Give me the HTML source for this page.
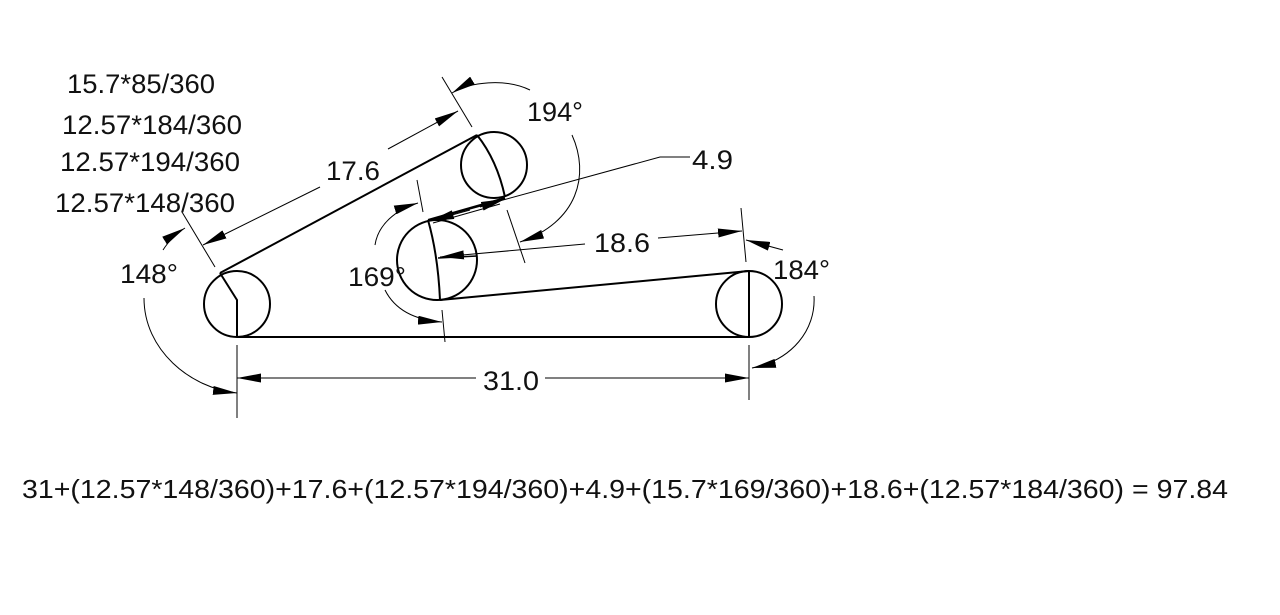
<!DOCTYPE html>
<html><head><meta charset="utf-8"><style>
html,body{margin:0;padding:0;background:#fff;}
svg{display:block;}
text{font-family:"Liberation Sans",Arial,sans-serif;fill:#111;}
</style></head><body>
<svg width="1280" height="615" viewBox="0 0 1280 615" xmlns="http://www.w3.org/2000/svg">
<defs>
<marker id="a" viewBox="0 0 24 9" refX="24" refY="4.5" markerWidth="24" markerHeight="9" markerUnits="userSpaceOnUse" orient="auto-start-reverse">
<path d="M0,0 L24,4.5 L0,9 Z" fill="#000"/>
</marker>
</defs>
<g stroke="#000" stroke-width="2" fill="none">
<circle cx="237" cy="304" r="33"/>
<circle cx="494" cy="165" r="33"/>
<circle cx="437" cy="260" r="40"/>
<circle cx="749" cy="304" r="33"/>
<line x1="237" y1="337" x2="749" y2="337"/>
<line x1="220" y1="273" x2="477" y2="135"/>
<line x1="440" y1="300" x2="749" y2="271"/>
<line x1="428" y1="220" x2="505" y2="198"/>
<line x1="433" y1="223" x2="500" y2="204" stroke-width="1"/>
<polyline points="220,273 237,300 237,337"/>
<path d="M477,135 Q497,160 505,197"/>
<path d="M428,220 Q438,255 440,300"/>
<line x1="438" y1="258" x2="477" y2="256" stroke-width="1.5"/>
<line x1="749" y1="271" x2="749" y2="337"/>
</g>
<g stroke="#000" stroke-width="1" fill="none">
<line x1="237" y1="345" x2="237" y2="418"/>
<line x1="749" y1="345" x2="749" y2="400"/>
<line x1="237" y1="378" x2="476" y2="378" marker-start="url(#a)"/>
<line x1="545" y1="378" x2="749" y2="378" marker-end="url(#a)"/>
<line x1="182" y1="212" x2="215" y2="267"/>
<line x1="442" y1="77" x2="472" y2="127"/>
<line x1="203" y1="245" x2="320" y2="187" marker-start="url(#a)"/>
<line x1="388" y1="149" x2="458" y2="111" marker-end="url(#a)"/>
<polyline points="690,157 660,157 430,220" />
<path d="M470,210 L430,221" marker-end="url(#a)"/>
<path d="M480,207 L505,199" marker-end="url(#a)"/>
<line x1="440" y1="257" x2="585" y2="244" marker-start="url(#a)"/>
<line x1="658" y1="238" x2="742" y2="231" marker-end="url(#a)"/>
<line x1="741" y1="208" x2="746" y2="262"/>
<line x1="507" y1="210" x2="525" y2="263"/>
<line x1="417" y1="180" x2="423" y2="212"/>
<line x1="442" y1="310" x2="445" y2="342"/>
<path d="M163,250 Q172,236 185,228" marker-end="url(#a)"/>
<path d="M144,298 C144,350 190,388 237,393" marker-end="url(#a)"/>
<path d="M530,90 C505,78 470,82 452,93" marker-end="url(#a)"/>
<path d="M572,135 C590,175 578,222 520,242" marker-end="url(#a)"/>
<path d="M375,245 C378,225 395,210 418,203" marker-end="url(#a)"/>
<path d="M385,290 C395,310 415,320 442,322" marker-end="url(#a)"/>
<path d="M783,250 L746,240" marker-end="url(#a)"/>
<path d="M814,296 C816,330 792,360 752,368" marker-end="url(#a)"/>
</g>
<g font-size="27">
<text x="67" y="93" textLength="148" lengthAdjust="spacingAndGlyphs">15.7*85/360</text>
<text x="62" y="134" textLength="180" lengthAdjust="spacingAndGlyphs">12.57*184/360</text>
<text x="60" y="171" textLength="180" lengthAdjust="spacingAndGlyphs">12.57*194/360</text>
<text x="55" y="212" textLength="180" lengthAdjust="spacingAndGlyphs">12.57*148/360</text>
<text x="326" y="180" textLength="54" lengthAdjust="spacingAndGlyphs">17.6</text>
<text x="527" y="121" textLength="56" lengthAdjust="spacingAndGlyphs">194°</text>
<text x="692" y="169" textLength="41" lengthAdjust="spacingAndGlyphs">4.9</text>
<text x="594" y="252" textLength="56" lengthAdjust="spacingAndGlyphs">18.6</text>
<text x="120" y="283" textLength="58" lengthAdjust="spacingAndGlyphs">148°</text>
<text x="348" y="286" textLength="58" lengthAdjust="spacingAndGlyphs">169°</text>
<text x="773" y="279" textLength="57" lengthAdjust="spacingAndGlyphs">184°</text>
<text x="483" y="390" textLength="56" lengthAdjust="spacingAndGlyphs">31.0</text>
</g>
<text x="22" y="498" font-size="26" textLength="1206" lengthAdjust="spacingAndGlyphs">31+(12.57*148/360)+17.6+(12.57*194/360)+4.9+(15.7*169/360)+18.6+(12.57*184/360)  = 97.84</text>
</svg>
</body></html>
